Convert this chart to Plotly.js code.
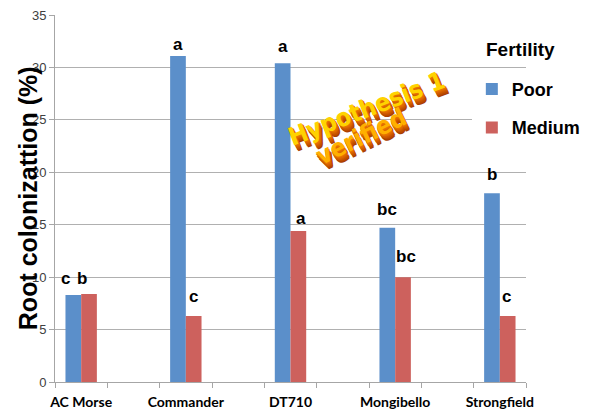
<!DOCTYPE html>
<html>
<head>
<meta charset="utf-8">
<script src="https://cdn.plot.ly/plotly-3.0.1.min.js"></script>
<style>html,body{margin:0;padding:0;background:#fff;}#chart{width:589px;height:412px;}</style>
</head>
<body>
<div id="chart"></div>
<script>
// ---- data ----
const categories = ["AC Morse", "Commander", "DT710", "Mongibello", "Strongfield"];
const poorValues = [8.3, 31.1, 30.4, 14.7, 18.0];
const mediumValues = [8.4, 6.3, 14.4, 10.0, 6.3];
const poorLetters = ["c", "a", "a", "bc", "b"];
const mediumLetters = ["b", "c", "a", "bc", "c"];
const seriesNames = ["Poor", "Medium"];
const legendTitle = "Fertility";
const yTitle = "Root colonizattion (%)";
const noteLines = ["Hypothesis 1", "verified"];

// ---- layout helpers (positions / styles) ----
const catPos = categories.map((c, i) => i * 2);
const boundaries = [];
for (let b = -0.5; b <= 8.5; b += 1) boundaries.push(b);
const barW = 0.3;
const poorShift = [[-8, 16], [0, 11], [0, 17], [0, 18], [0, 19]];
const medShift = [[-7, 15], [0, 19], [3, 13], [3, 21], [-1, 19]];

const traces = [
  {type: "bar", name: seriesNames[0], legendgroup: "g0", x: catPos, y: poorValues, width: barW, offset: -barW,
   marker: {color: "#5b8fca"}, hoverinfo: "skip"},
  {type: "bar", name: seriesNames[1], legendgroup: "g1", x: catPos, y: mediumValues, width: barW, offset: 0,
   marker: {color: "#cd615d"}, hoverinfo: "skip"}
];

const annotations = [];
const letterFont = {family: "Liberation Sans, Arial, sans-serif", size: 17, color: "#000", weight: "bold"};
categories.forEach((c, i) => {
  annotations.push({x: catPos[i] - barW / 2, y: poorValues[i], xref: "x", yref: "y", text: poorLetters[i],
    showarrow: false, font: letterFont, xanchor: "center", yanchor: "middle",
    xshift: poorShift[i][0], yshift: poorShift[i][1]});
  annotations.push({x: catPos[i] + barW / 2, y: mediumValues[i], xref: "x", yref: "y", text: mediumLetters[i],
    showarrow: false, font: letterFont, xanchor: "center", yanchor: "middle",
    xshift: medShift[i][0], yshift: medShift[i][1]});
});

// y-axis title (placed to overlap tick labels like the reference)
annotations.push({x: -0.058, y: 0.5, xref: "paper", yref: "paper", text: yTitle, textangle: -90,
  showarrow: false, xanchor: "center", yanchor: "middle",
  font: {family: "Liberation Sans, Arial, sans-serif", size: 25, color: "#000", weight: "bold"}});

// legend title
annotations.push({x: 0.91, y: 0.905, xref: "paper", yref: "paper", text: legendTitle,
  showarrow: false, xanchor: "left", yanchor: "middle",
  font: {family: "Liberation Sans, Arial, sans-serif", size: 19, color: "#000", weight: "bold"}});

// WordArt-like note
const notePos = [{x: 0.662, y: 0.745, a: -21, c: "#ffd200"}, {x: 0.65, y: 0.668, a: -26, c: "#ffb000"}];
const shadeCols = ["#a84000", "#b84800", "#c45200", "#d05c00", "#dc6800", "#e67400"];
noteLines.forEach((t, k) => {
  const p = notePos[k];
  const nf = {family: "DejaVu Sans Condensed, Liberation Sans Narrow, sans-serif", size: 25, weight: "bold"};
  for (let s = shadeCols.length; s >= 1; s--) {
    annotations.push({x: p.x, y: p.y, xref: "paper", yref: "paper", text: t, textangle: p.a,
      showarrow: false, xanchor: "center", yanchor: "middle", xshift: s * 0.6, yshift: -s,
      font: Object.assign({}, nf, {color: shadeCols[shadeCols.length - s]})});
  }
  annotations.push({x: p.x, y: p.y, xref: "paper", yref: "paper", text: t, textangle: p.a,
    showarrow: false, xanchor: "center", yanchor: "middle",
    font: Object.assign({}, nf, {color: p.c})});
});

const layout = {
  width: 589, height: 412,
  margin: {l: 55, r: 63, t: 15, b: 30, autoexpand: false},
  paper_bgcolor: "#fff", plot_bgcolor: "#fff",
  barmode: "group",
  showlegend: true,
  legend: {
    x: 0.885, y: 0.848, xanchor: "left", yanchor: "top",
    bgcolor: "#fff", borderwidth: 0,
    font: {family: "Liberation Sans, Arial, sans-serif", size: 18, color: "#000", weight: "bold"},
    traceorder: "grouped", tracegroupgap: 12, itemwidth: 30
  },
  xaxis: {
    range: [-0.5, 8.5], tickmode: "array", tickvals: catPos, ticktext: categories,
    ticks: "", showline: true, linecolor: "#a6a6a6", linewidth: 1, showgrid: false, zeroline: false,
    ticklabelstandoff: 7,
    tickfont: {family: "Lato, Open Sans, sans-serif", size: 14, color: "#000", weight: "bold"},
    minor: {tickmode: "array", tickvals: boundaries, ticks: "outside", ticklen: 5, tickcolor: "#a6a6a6", showgrid: false},
    fixedrange: true
  },
  yaxis: {
    range: [0, 35], dtick: 5, tick0: 0, ticks: "outside", ticklen: 5, tickcolor: "#a6a6a6",
    showline: true, linecolor: "#a6a6a6", showgrid: true, gridcolor: "#b0b0b0", gridwidth: 1,
    zeroline: false,
    tickfont: {family: "Liberation Sans, Arial, sans-serif", size: 13, color: "#404040"},
    fixedrange: true
  },
  annotations: annotations
};

Plotly.newPlot("chart", traces, layout, {displayModeBar: false, staticPlot: true});
</script>
</body>
</html>
